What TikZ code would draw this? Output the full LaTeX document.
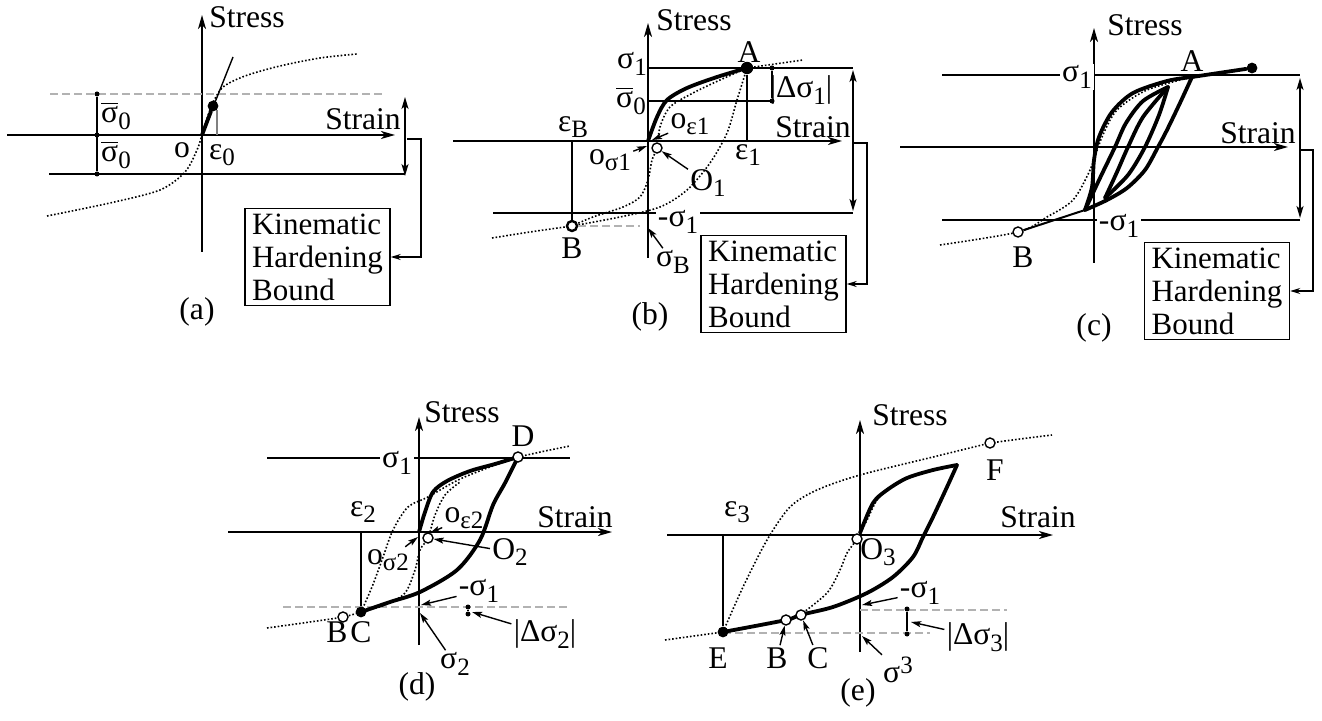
\documentclass[tikz,border=0pt]{standalone}
\usepackage{fontspec}
\setmainfont{Liberation Serif}
\usetikzlibrary{arrows.meta, positioning, calc}
\newcommand{\lsub}[1]{\raisebox{-0.45ex}{\fontsize{12.5}{12.5}\selectfont #1}}
\newcommand{\lsup}[1]{\raisebox{0.6ex}{\fontsize{12.5}{12.5}\selectfont #1}}
\newcommand{\sbar}{$\overline{\hbox{σ}}$}

\begin{document}
\begin{tikzpicture}[x=0.5pt, y=-0.5pt,
  axis/.style={line width=0.8pt, -{Stealth[length=7pt, width=4pt, inset=2pt]}},
  twoway/.style={line width=0.8pt, {Stealth[length=6pt, width=3.5pt, inset=1.5pt]}-{Stealth[length=6pt, width=3.5pt, inset=1.5pt]}},
  guide/.style={line width=0.7pt},
  faint/.style={line width=0.6pt, gray!60, dash pattern=on 4pt off 2pt},
  virt/.style={line width=0.8pt, densely dotted},
  hyst/.style={line width=1.9pt, line join=round, line cap=round},
  conn/.style={line width=0.7pt, -{Stealth[length=5pt, width=3pt]}},
  lar/.style={line width=0.7pt, -{Stealth[length=5pt, width=3pt, inset=1pt]}},
  lbl/.style={font=\fontsize{15.8}{16.5}\selectfont, inner sep=1pt},
  onl/.style={lbl, fill=white},
  bnd/.style={draw, line width=0.8pt, align=left, font=\fontsize{15.5}{16.5}\selectfont, inner xsep=3.5pt, inner ysep=2.5pt},
  fdot/.style={circle, fill, inner sep=0pt, minimum size=5.4pt},
  odot/.style={circle, draw, fill=white, line width=0.7pt, inner sep=0pt, minimum size=5pt},
  bdot/.style={circle, draw, fill=white, line width=1.2pt, inner sep=0pt, minimum size=5pt},
  sdot/.style={circle, fill, inner sep=0pt, minimum size=2.5pt}
]
\useasboundingbox (0,0) rectangle (1322,721);

%%% (a) first loading
\draw[axis] (7,135) -- (395,135);
\draw[axis] (202,252) -- (202,15);
\node[lbl] (a-stress) at (247,17) {Stress};
\node[lbl] (a-strain) at (363,119) {Strain};
\draw[faint] (50,94) -- (382,94);
\draw[guide] (49,174) -- (405,174);
\node[sdot] (a-d1) at (97,94) {};
\node[sdot] (a-d2) at (97,135) {};
\node[sdot] (a-d3) at (97,174) {};
\draw[guide] (a-d1) -- (a-d3);
\node[lbl] at (116,116) {\sbar\lsub{0}};
\node[lbl] at (116,155) {\sbar\lsub{0}};
\node[lbl] at (182,150) {o};
\node[lbl] at (222,155) {ε\lsub{0}};
\draw[virt] plot[smooth] coordinates {(47,216) (110,203) (160,190) (185,172) (197,150) (202,135) (210,110) (222,88) (245,76) (280,66) (320,58) (357,54)};
\coordinate (a-o) at (202,135);
\coordinate (a-tan) at (233,57);
\node[fdot] (a-y) at (213,106) {};
\draw[guide] (a-o) -- (a-tan);
\draw[hyst] (a-o) -- (a-y);
\draw[guide, gray] (217,110) -- (217,135);
\draw[twoway] (405,97) -- (405,176);
\node[bnd] (a-box) at (317.5,257) {Kinematic\\Hardening\\Bound};
\coordinate (a-tail) at (407,139);
\draw[conn] (a-tail) -- (421,139) |- (a-box.east);
\node[lbl] at (197,312) {(a)};

%%% (b) loading to A, unloading to B
\draw[axis] (453,141) -- (842,141);
\draw[axis] (648,258) -- (648,23);
\node[lbl] at (694,20) {Stress};
\node[lbl] at (813,127) {Strain};
\draw[guide] (648,68) -- (853,68);
\draw[guide] (648,101) -- (772,101);
\draw[guide] (493,213) -- (853,213);
\node[sdot] (b-d1) at (772,68) {};
\node[sdot] (b-d2) at (772,101) {};
\draw[guide] (b-d1) -- (b-d2);
\node[lbl] at (801,90) {|Δσ\lsub{1}|};
\node[lbl] at (632,64) {σ\lsub{1}};
\node[lbl] at (631,101) {\sbar\lsub{0}};
\draw[virt] plot[smooth] coordinates {(492,238) (530,232) (572,226)};
\draw[virt] plot[smooth] coordinates {(747,68) (775,64) (803,60)};
\draw[virt] plot[smooth] coordinates {(747,68) (720,80) (693,93) (670,107) (660,127) (657,148) (652,160) (648,180) (640,197) (623,207) (593,217) (572,226)};
\draw[virt] plot[smooth] coordinates {(747,68) (737,100) (727,133) (710,163) (687,190) (660,207) (620,217) (572,226)};
\draw[hyst] plot[smooth] coordinates {(648,141) (657,117) (667,100) (687,88) (717,77) (747,68)};
\node[fdot, minimum size=6.2pt] (b-A) at (747,68) {};
\node[lbl] at (749,52) {A};
\coordinate (b-e1) at (747,141);
\draw[guide] (b-A) -- (b-e1);
\node[lbl] at (748,155) {ε\lsub{1}};
\node[bdot] (b-B) at (572,226) {};
\coordinate (b-eB) at (572,141);
\draw[guide] (b-eB) -- (b-B);
\node[lbl] at (572,248) {B};
\node[lbl] at (573,127) {ε\lsub{B}};
\coordinate (b-Bend) at (640,226);
\draw[faint] (b-B) -- (b-Bend);
\node[onl] at (678,222) {-σ\lsub{1}};
\draw[twoway] (853,70) -- (853,211);
\node[odot] (b-O1) at (657,148) {};
\node[lbl] (b-O1l) at (708,183) {O\lsub{1}};
\draw[lar] (b-O1l) -- (b-O1);
\coordinate (b-os) at (647,146);
\node[lbl] (b-osl) at (610,160) {o\lsub{σ1}};
\draw[lar] (b-osl) -- (b-os);
\coordinate (b-oe) at (652,140);
\node[lbl] (b-oel) at (690,124) {o\lsub{ε1}};
\draw[lar] (b-oel) -- (b-oe);
\coordinate (b-sB) at (648,228);
\node[lbl] (b-sBl) at (673,262) {σ\lsub{B}};
\draw[lar] (b-sBl) -- (b-sB);
\node[bnd] (b-box) at (773.5,284) {Kinematic\\Hardening\\Bound};
\coordinate (b-tail) at (853,143);
\draw[conn] (b-tail) -- (867,143) |- (b-box.east);
\node[lbl] at (650,317) {(b)};

%%% (c) repeated cycles
\draw[axis] (900,147) -- (1288,147);
\draw[axis] (1094,263) -- (1094,28);
\node[lbl] at (1145,25) {Stress};
\node[lbl] at (1258,133) {Strain};
\draw[guide] (942,75) -- (1300,75);
\draw[guide] (942,220) -- (1300,220);
\node[onl] at (1077,77) {σ\lsub{1}};
\node[onl] at (1119,226) {-σ\lsub{1}};
\draw[twoway] (1300,78) -- (1300,218);
\draw[virt] plot[smooth] coordinates {(940,245) (1018,232) (1047,217) (1073,200) (1090,170) (1102,137) (1117,110) (1147,90) (1192,77)};
\draw[hyst] plot[smooth] coordinates {(1085,210) (1092,187) (1094,160) (1099,137) (1112,112) (1133,93) (1167,81) (1192,77)};
\draw[hyst] plot[smooth] coordinates {(1192,77) (1180,103) (1167,130) (1158,147) (1145,170) (1127,188) (1107,200) (1085,210)};
\draw[hyst] plot[smooth] coordinates {(1085,210) (1100,178) (1115,147) (1126,123) (1143,101) (1168,87)};
\draw[hyst] plot[smooth] coordinates {(1168,87) (1159,115) (1145,147) (1128,175) (1105,198)};
\draw[hyst] plot[smooth] coordinates {(1105,198) (1117,172) (1128,147) (1143,117) (1168,87)};
\coordinate (c-A) at (1192,77);
\node[fdot] (c-end) at (1252,68) {};
\draw[hyst] (c-A) -- (c-end);
\node[lbl] at (1192,61) {A};
\coordinate (c-P0) at (1085,210);
\node[odot] (c-B) at (1018,232) {};
\draw[line width=1pt] (c-B) -- (c-P0);
\node[lbl] at (1023,257) {B};
\node[bnd] (c-box) at (1217,291) {Kinematic\\Hardening\\Bound};
\coordinate (c-tail) at (1300,150);
\draw[conn] (c-tail) -- (1313,150) |- (c-box.east);
\node[lbl] at (1094,328) {(c)};

%%% (d) reloading from C to D
\draw[axis] (228,532) -- (612,532);
\draw[axis] (419,645) -- (419,417);
\node[lbl] at (462,412) {Stress};
\node[lbl] at (575,517) {Strain};
\draw[guide] (267,458) -- (570,458);
\node[onl] at (397,463) {σ\lsub{1}};
\draw[faint] (283,607) -- (570,607);
\draw[virt] plot[smooth] coordinates {(267,628) (310,622) (343,617) (361,612)};
\draw[virt] plot[smooth] coordinates {(361,612) (372,587) (382,560) (393,530) (408,507) (428,497) (458,480) (490,467) (518,457)};
\draw[virt] plot[smooth] coordinates {(361,612) (385,605) (405,593) (415,570) (420,550) (428,538) (435,515) (445,495) (460,482)};
\draw[virt] plot[smooth] coordinates {(518,457) (545,451) (570,446)};
\draw[hyst] plot[smooth] coordinates {(419,532) (425,512) (433,492) (447,481) (470,471) (495,464) (518,457)};
\draw[hyst] plot[smooth] coordinates {(518,457) (505,483) (493,505) (480,540) (457,570) (420,592) (390,602) (361,612)};
\node[odot] (d-D) at (518,457) {};
\node[lbl] at (523,436) {D};
\node[fdot] (d-C) at (361,612) {};
\node[odot] (d-B) at (343,617) {};
\node[lbl] at (337,632) {B};
\node[lbl] at (361,632) {C};
\coordinate (d-e2) at (361,532);
\draw[guide] (d-e2) -- (d-C);
\node[lbl] at (363,512) {ε\lsub{2}};
\node[odot] (d-O2) at (428,538) {};
\node[lbl] (d-O2l) at (510,552) {O\lsub{2}};
\draw[lar] (d-O2l) -- (d-O2);
\coordinate (d-os) at (418,537);
\node[lbl] (d-osl) at (388,560) {o\lsub{σ2}};
\draw[lar] (d-osl) -- (d-os);
\coordinate (d-oe) at (430,533);
\node[lbl] (d-oel) at (464,518) {o\lsub{ε2}};
\draw[lar] (d-oel) -- (d-oe);
\coordinate (d-s1) at (421,605);
\node[lbl] (d-s1l) at (479,591) {-σ\lsub{1}};
\draw[lar] (d-s1l) -- (d-s1);
\node[sdot] (d-d1) at (468,607) {};
\node[sdot] (d-d2) at (468,614) {};
\draw[guide] (d-d1) -- (d-d2);
\coordinate (d-dm) at (472,612);
\node[lbl] (d-dsl) at (545,634) {|Δσ\lsub{2}|};
\draw[lar] (d-dsl) -- (d-dm);
\coordinate (d-s2) at (420,613);
\node[lbl] (d-s2l) at (455,664) {σ\lsub{2}};
\draw[lar] (d-s2l) -- (d-s2);
\node[lbl] at (417,687) {(d)};

%%% (e) loading to E, reloading to F
\draw[axis] (667,535) -- (1053,535);
\draw[axis] (860,652) -- (860,420);
\node[lbl] at (910,415) {Stress};
\node[lbl] at (1038,517) {Strain};
\draw[faint] (860,610) -- (1007,610);
\draw[faint] (723,633) -- (930,633);
\draw[virt] plot[smooth] coordinates {(665,640) (723,632)};
\draw[virt] plot[smooth] coordinates {(723,632) (743,587) (767,540) (790,507) (817,490) (860,475) (933,457) (990,443)};
\draw[virt] plot[smooth] coordinates {(990,443) (1020,439) (1052,435)};
\draw[virt] plot[smooth] coordinates {(800,615) (827,593) (840,570) (847,553) (857,539) (867,520) (877,500) (890,487)};
\draw[hyst] plot[smooth] coordinates {(860,533) (873,503) (887,490) (907,478) (933,470) (957,465)};
\draw[hyst] plot[smooth] coordinates {(957,465) (947,487) (933,517) (923,537) (913,557) (893,577) (867,593) (833,607) (800,615) (786,620) (723,632)};
\node[fdot] (e-E) at (723,632) {};
\node[odot] (e-B) at (786,620) {};
\node[odot] (e-C) at (801,615) {};
\node[odot] (e-O3) at (857,539) {};
\node[odot] (e-F) at (990,443) {};
\node[lbl] at (718,658) {E};
\node[lbl] (e-Bl) at (777,658) {B};
\node[lbl] (e-Cl) at (818,658) {C};
\draw[lar] (e-Bl) -- (e-B);
\draw[lar] (e-Cl) -- (e-C);
\node[lbl] at (878,552) {O\lsub{3}};
\node[lbl] at (995,470) {F};
\coordinate (e-e3) at (723,535);
\draw[guide] (e-e3) -- (e-E);
\node[lbl] at (737,512) {ε\lsub{3}};
\node[sdot] (e-d1) at (907,609) {};
\node[sdot] (e-d2) at (907,634) {};
\draw[guide] (e-d1) -- (e-d2);
\coordinate (e-dm) at (911,622);
\node[lbl] (e-dsl) at (978,637) {|Δσ\lsub{3}|};
\draw[lar] (e-dsl) -- (e-dm);
\coordinate (e-s1) at (862,605);
\node[lbl] (e-s1l) at (920,593) {-σ\lsub{1}};
\draw[lar] (e-s1l) -- (e-s1);
\coordinate (e-s3) at (862,636);
\node[lbl] (e-s3l) at (898,670) {σ\lsup{3}};
\draw[lar] (e-s3l) -- (e-s3);
\node[lbl] at (858,693) {(e)};
\end{tikzpicture}
\end{document}
